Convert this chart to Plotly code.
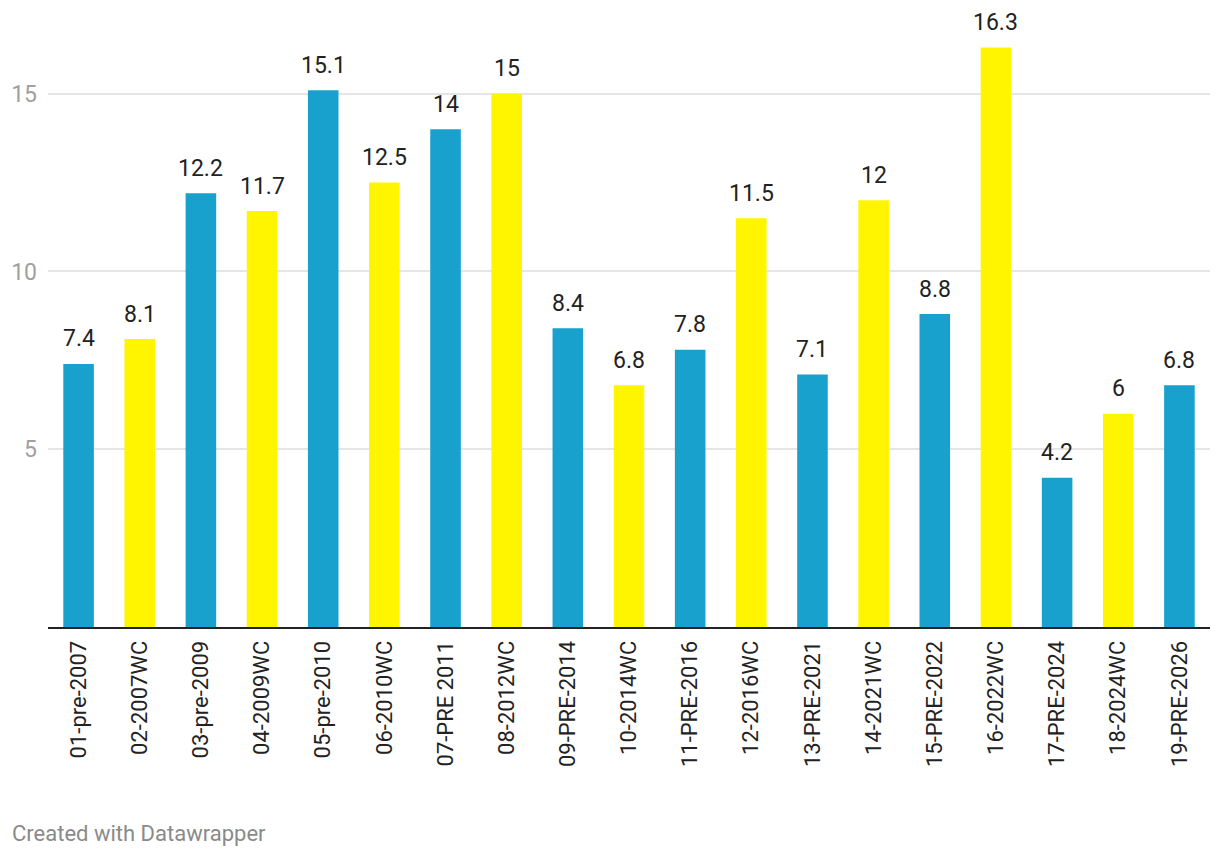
import plotly.graph_objects as go

categories = ["01-pre-2007", "02-2007WC", "03-pre-2009", "04-2009WC", "05-pre-2010",
              "06-2010WC", "07-PRE 2011", "08-2012WC", "09-PRE-2014", "10-2014WC",
              "11-PRE-2016", "12-2016WC", "13-PRE-2021", "14-2021WC", "15-PRE-2022",
              "16-2022WC", "17-PRE-2024", "18-2024WC", "19-PRE-2026"]
values = [7.4, 8.1, 12.2, 11.7, 15.1, 12.5, 14, 15, 8.4, 6.8, 7.8, 11.5, 7.1, 12, 8.8,
          16.3, 4.2, 6, 6.8]
value_labels = ["7.4", "8.1", "12.2", "11.7", "15.1", "12.5", "14", "15", "8.4", "6.8",
                "7.8", "11.5", "7.1", "12", "8.8", "16.3", "4.2", "6", "6.8"]
y_ticks = [5, 10, 15]

BLUE = "#18a1cd"
YELLOW = "#fff500"
colors = [YELLOW if c.endswith("WC") else BLUE for c in categories]

fig = go.Figure(go.Bar(
    x=categories, y=values, marker=dict(color=colors, line=dict(width=0)),
    hoverinfo="skip",
))

label_annotations = [
    dict(x=c, y=v, text=t, xref="x", yref="y", showarrow=False,
         xanchor="center", yanchor="middle", yshift=25,
         font=dict(family="Roboto", size=23, color="#222222"))
    for c, v, t in zip(categories, values, value_labels)
]

footer = dict(text="Created with Datawrapper", xref="paper", yref="paper",
              x=0, y=0, xanchor="left", yanchor="middle", xshift=-38, yshift=-206,
              showarrow=False, font=dict(family="Roboto", size=22, color="#8a8a8a"))

fig.update_layout(
    width=1212, height=850,
    margin=dict(l=40, r=10, t=0, b=231),
    paper_bgcolor="white", plot_bgcolor="white",
    bargap=0.5, showlegend=False,
    font=dict(family="Roboto"),
    xaxis=dict(tickangle=-90, tickfont=dict(family="Roboto", size=22, color="#222222"),
               showline=True, linecolor="#222222", linewidth=2, ticks="",
               showgrid=False, zeroline=False, fixedrange=True, ticklabelstandoff=3),
    yaxis=dict(range=[0, 17.41], tickvals=y_ticks, ticktext=[str(v) for v in y_ticks],
               tickfont=dict(family="Roboto", size=23, color="#a0a0a0"),
               showgrid=True, gridcolor="#e5e5e5", gridwidth=1.5,
               zeroline=False, showline=False, ticks="", ticklabelstandoff=10,
               fixedrange=True),
    annotations=label_annotations + [footer],
)

fig.write_html("out.html")
